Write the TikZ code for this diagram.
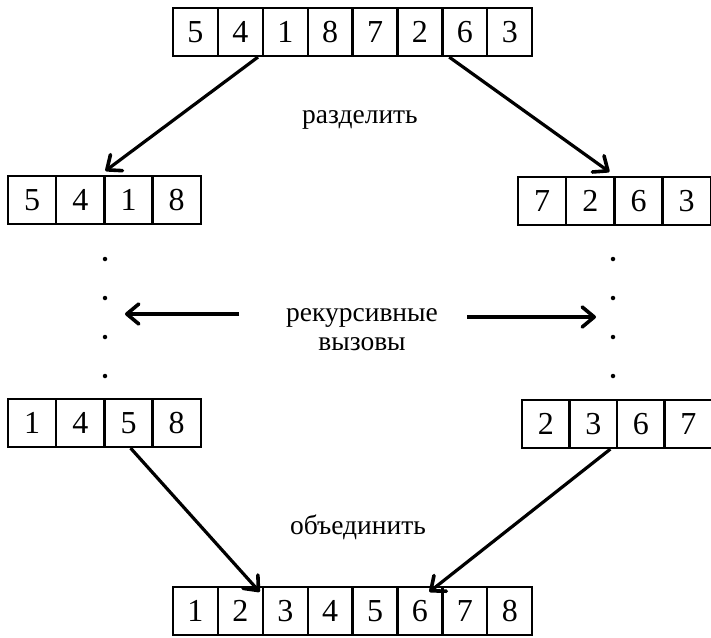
\documentclass[tikz,border=0pt]{standalone}
\usepackage{fontspec}
\setmainfont{Liberation Serif}
\usetikzlibrary{arrows.meta}
\begin{document}
\begin{tikzpicture}[x=1pt,y=-1pt,
  cell/.style={draw,line width=2.2pt,inner sep=0pt,minimum height=48pt,
    font=\fontsize{32}{34}\selectfont,anchor=center},
  wide/.style={cell,minimum width=45pt},
  narrow/.style={cell,minimum width=48pt},
  lbl/.style={font=\fontsize{27.5}{31}\selectfont,align=center},
  arr/.style={line width=3.2pt,-{Straight Barb[length=12pt,width=20pt,line width=3.6pt,round]}},
  dot/.style={fill,circle,inner sep=0pt,minimum size=4.5pt}]
\useasboundingbox (0,0) rectangle (711,637);

% input array
\foreach \v [count=\i] in {5,4,1,8,7,2,6,3}
  \node[wide] (t\i) at ({173+44.9*(\i-0.5)},32) {\v};
% halves after splitting
\foreach \v [count=\i] in {5,4,1,8}
  \node[narrow] (a\i) at ({8+48.2*(\i-0.5)},200) {\v};
\foreach \v [count=\i] in {7,2,6,3}
  \node[narrow] (b\i) at ({518+48.2*(\i-0.5)},201) {\v};
% sorted halves
\foreach \v [count=\i] in {1,4,5,8}
  \node[narrow] (c\i) at ({8+48.2*(\i-0.5)},423) {\v};
\foreach \v [count=\i] in {2,3,6,7}
  \node[narrow] (d\i) at ({522+47.5*(\i-0.5)},424) {\v};
% merged result
\foreach \v [count=\i] in {1,2,3,4,5,6,7,8}
  \node[wide] (m\i) at ({173+44.9*(\i-0.5)},611) {\v};

% labels
\node[lbl] (split) at (360,120) {разделить};
\node[lbl] (rec) at (362,330) {рекурсивные\\[-2pt]вызовы};
\node[lbl] (merge) at (358,527) {объединить};

% split and merge arrows
\draw[arr] ([xshift=-6pt]t2.south east) -- ([yshift=4pt]a2.north east);
\draw[arr] ([xshift=8pt]t7.south west) -- ([xshift=-4pt,yshift=4pt]b3.north west);
\draw[arr] ([xshift=-23pt]c3.south east) -- ([xshift=-2pt,yshift=-6pt]m3.north west);
\draw[arr] ([xshift=-8pt]d2.south east) -- ([xshift=33pt,yshift=-6pt]m6.north west);

% recursive calls: dots and arrows
\foreach \y [count=\k] in {259,298,337,376} {
  \node[dot] (ld\k) at (105,\y) {};
  \node[dot] (rd\k) at (613,\y) {};
}
\coordinate (lfrom) at (239,314);
\coordinate (lto) at (125,314);
\coordinate (rfrom) at (467,317);
\coordinate (rto) at (596,317);
\draw[arr] (lfrom) -- (lto);
\draw[arr] (rfrom) -- (rto);
\end{tikzpicture}
\end{document}
